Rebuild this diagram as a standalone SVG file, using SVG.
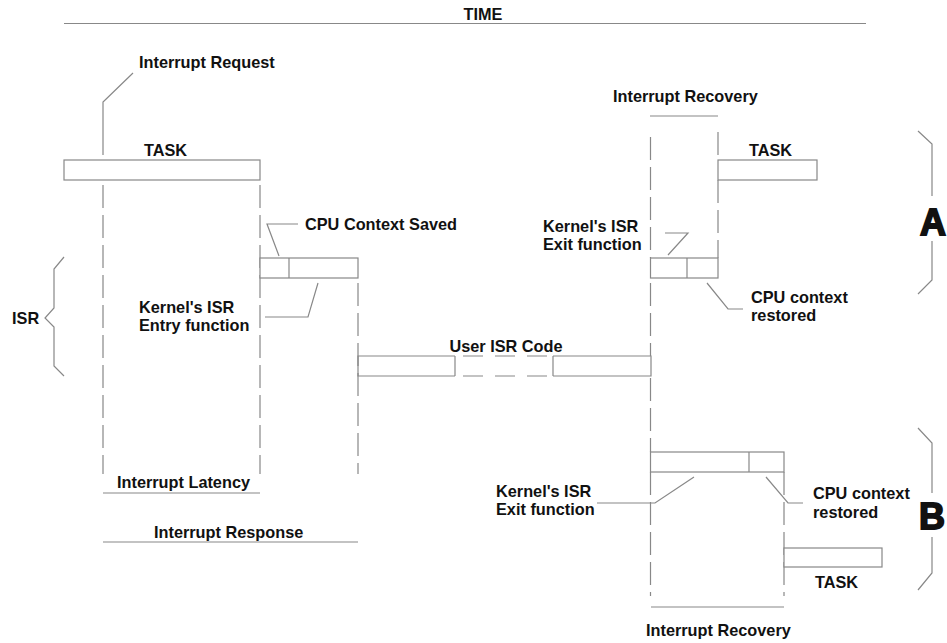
<svg xmlns="http://www.w3.org/2000/svg" width="947" height="643" viewBox="0 0 947 643">
<style>
text{font-family:"Liberation Sans",Arial,sans-serif;font-weight:bold;font-size:16.3px;fill:#111}
.big{font-size:36px;font-weight:900;stroke:#111;stroke-width:1.8}
.box{fill:#fff;stroke:#888;stroke-width:1.2}
.ln{fill:none;stroke:#888;stroke-width:1.2}
.dash{fill:none;stroke:#888;stroke-width:1.2;stroke-dasharray:23 7}
.mdash{fill:none;stroke:#888;stroke-width:1.2;stroke-dasharray:20 12}
</style>
<rect width="947" height="643" fill="#fff"/>
<g id="time">
<text x="483" y="20" text-anchor="middle">TIME</text>
<line class="ln" x1="64" y1="23.5" x2="866" y2="23.5"/>
</g>
<g id="connectors">
<line class="dash" x1="103" y1="185" x2="103" y2="474"/>
<line class="dash" x1="260" y1="185" x2="260" y2="474"/>
<line class="dash" x1="358" y1="283" x2="358" y2="474"/>
<line class="dash" x1="650.5" y1="137" x2="650.5" y2="258"/>
<line class="dash" x1="650.5" y1="283" x2="650.5" y2="356"/>
<line class="dash" x1="650.5" y1="378" x2="650.5" y2="452"/>
<line class="dash" x1="650.5" y1="472" x2="650.5" y2="596"/>
<line class="dash" x1="718" y1="132" x2="718" y2="160"/>
<line class="dash" x1="718" y1="180" x2="718" y2="258"/>
<line class="dash" x1="784" y1="472" x2="784" y2="596"/>
<polyline class="ln" points="133,73 103,102 103,155"/>
<polyline class="ln" points="298,224 267,224 279,256"/>
<polyline class="ln" points="265,317 308,317 318,283"/>
<polyline class="ln" points="665,233 688,233 668,255"/>
<polyline class="ln" points="707,283 728,309 743,309"/>
<polyline class="ln" points="597,503 655,503 694,477"/>
<polyline class="ln" points="766,477 788,503 803,503"/>
<line class="ln" x1="103" y1="493" x2="260" y2="493"/>
<line class="ln" x1="103" y1="542" x2="358" y2="542"/>
<line class="ln" x1="650" y1="116" x2="718" y2="116"/>
<line class="ln" x1="651" y1="607" x2="784" y2="607"/>
<polyline class="ln" points="64,257 54,269 54,308 45,318 54,327 54,366 64,376"/>
<polyline class="ln" points="918,131 932,144 932,196"/>
<polyline class="ln" points="932,241 932,280 918,294"/>
<polyline class="ln" points="918,428 932,443 932,493"/>
<polyline class="ln" points="932,537 932,573 918,590"/>
</g>
<g id="interrupt-request"><text x="139" y="68">Interrupt Request</text></g>
<g id="task1">
<text x="144" y="156">TASK</text>
<rect class="box" x="64" y="160" width="196" height="20"/>
</g>
<g id="cpu-context-saved">
<rect class="box" x="260" y="258" width="98" height="20"/>
<line class="ln" x1="289" y1="258" x2="289" y2="278"/>
<text x="305" y="230">CPU Context Saved</text>
</g>
<g id="entry-function">
<text x="139" y="313">Kernel's ISR</text>
<text x="139" y="331">Entry function</text>
</g>
<g id="isr"><text x="12" y="324">ISR</text></g>
<g id="user-isr-code">
<text x="506" y="352" text-anchor="middle">User ISR Code</text>
<polyline class="ln" points="455,356 358,356 358,376 455,376"/>
<polyline class="ln" points="553,356 651,356 651,376 553,376"/>
<line class="ln" x1="455" y1="356" x2="455" y2="376"/>
<line class="ln" x1="553" y1="356" x2="553" y2="376"/>
<line class="mdash" x1="463" y1="356" x2="553" y2="356"/>
<line class="mdash" x1="463" y1="376" x2="553" y2="376"/>
</g>
<g id="interrupt-latency"><text x="117" y="488">Interrupt Latency</text></g>
<g id="interrupt-response"><text x="154" y="538">Interrupt Response</text></g>
<g id="recovery-a"><text x="613" y="102">Interrupt Recovery</text></g>
<g id="task-a">
<text x="749" y="156">TASK</text>
<rect class="box" x="718" y="160" width="99" height="20"/>
</g>
<g id="exit-a">
<rect class="box" x="650.5" y="258" width="67.5" height="20"/>
<line class="ln" x1="687" y1="258" x2="687" y2="278"/>
<text x="543" y="232">Kernel's ISR</text>
<text x="543" y="250">Exit function</text>
</g>
<g id="restored-a">
<text x="751" y="303">CPU context</text>
<text x="751" y="321">restored</text>
</g>
<g id="label-a"><text class="big" x="920" y="235">A</text></g>
<g id="exit-b">
<rect class="box" x="650.5" y="452" width="133.5" height="20"/>
<line class="ln" x1="749" y1="452" x2="749" y2="472"/>
<text x="496" y="497">Kernel's ISR</text>
<text x="496" y="515">Exit function</text>
</g>
<g id="restored-b">
<text x="813" y="499">CPU context</text>
<text x="813" y="518">restored</text>
</g>
<g id="task-b">
<rect class="box" x="784" y="548" width="98" height="19"/>
<text x="815" y="588">TASK</text>
</g>
<g id="recovery-b"><text x="646" y="636">Interrupt Recovery</text></g>
<g id="label-b"><text class="big" x="919" y="529">B</text></g>
</svg>
